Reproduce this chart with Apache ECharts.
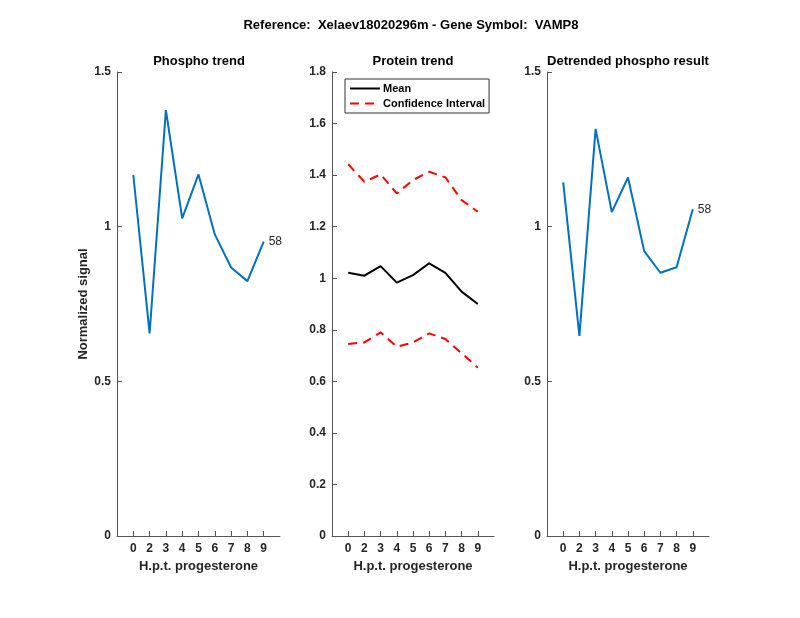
<!DOCTYPE html>
<html>
<head>
<meta charset="utf-8">
<script src="https://cdn.jsdelivr.net/npm/echarts@6/dist/echarts.min.js"></script>
<style>html,body{margin:0;padding:0;background:#fff}#c{width:800px;height:618px}</style>
</head>
<body>
<div id="c"></div>
<script>
const categories = ['0','2','3','4','5','6','7','8','9'];
const phosphoTrend = [1.167, 0.655, 1.377, 1.027, 1.169, 0.975, 0.868, 0.824, 0.952];
const proteinMean = [1.021, 1.010, 1.047, 0.983, 1.012, 1.058, 1.021, 0.948, 0.900];
const proteinUpper = [1.442, 1.374, 1.403, 1.329, 1.381, 1.413, 1.391, 1.303, 1.258];
const proteinLower = [0.745, 0.751, 0.790, 0.734, 0.751, 0.786, 0.764, 0.709, 0.653];
const detrended = [1.143, 0.647, 1.316, 1.047, 1.159, 0.921, 0.851, 0.869, 1.056];
const endLabelText = '58';

const FONT = '"Liberation Sans", Arial, Helvetica, sans-serif';
const AX = '#555';
const TXT = '#262626';
const toPairs = arr => arr.map((v, i) => [i + 1, v]);
const tickPos = categories.map((c, i) => i + 1);

function xAxis(gi) {
  return {
    type: 'value', gridIndex: gi, min: 0, max: 10,
    name: 'H.p.t. progesterone', nameLocation: 'middle', nameGap: 24,
    nameTextStyle: {fontFamily: FONT, fontSize: 13, fontWeight: 'bold', color: TXT},
    axisLine: {show: true, lineStyle: {color: AX, width: 1}},
    axisTick: {show: true, inside: true, length: 5, lineStyle: {color: AX}, customValues: tickPos},
    axisLabel: {fontFamily: FONT, fontSize: 12, fontWeight: 'bold', color: TXT, margin: 7,
      customValues: tickPos, formatter: v => categories[Math.round(v) - 1] ?? ''},
    splitLine: {show: false}
  };
}
function yAxis(gi, max, interval, name) {
  return {
    type: 'value', gridIndex: gi, min: 0, max: max, interval: interval,
    name: name || '', nameLocation: 'middle', nameGap: 19,
    nameTextStyle: {fontFamily: FONT, fontSize: 13, fontWeight: 'bold', color: TXT},
    axisLine: {show: true, lineStyle: {color: AX, width: 1}},
    axisTick: {show: true, inside: true, length: 5, lineStyle: {color: AX}},
    axisLabel: {fontFamily: FONT, fontSize: 12, fontWeight: 'bold', color: TXT, margin: 6},
    splitLine: {show: false}
  };
}
const titleStyle = {fontFamily: FONT, fontSize: 13, fontWeight: 'bold', color: '#000'};

const option = {
  animation: false,
  backgroundColor: '#fff',
  title: [
    {text: 'Reference:  Xelaev18020296m - Gene Symbol:  VAMP8', left: 411, top: 19, padding: 0, textAlign: 'center', textStyle: titleStyle},
    {text: 'Phospho trend', left: 199, top: 55, padding: 0, textAlign: 'center', textStyle: titleStyle},
    {text: 'Protein trend', left: 413, top: 55, padding: 0, textAlign: 'center', textStyle: titleStyle},
    {text: 'Detrended phospho result', left: 628, top: 55, padding: 0, textAlign: 'center', textStyle: titleStyle}
  ],
  legend: {
    left: 345, top: 79, orient: 'vertical', itemWidth: 30, itemHeight: 10, itemGap: 4,
    padding: [4, 4, 4, 4],
    borderColor: '#333', borderWidth: 1, backgroundColor: '#fff',
    textStyle: {fontFamily: FONT, fontSize: 11, fontWeight: 'bold', color: '#000', padding: [0, 0, 0, -2]},
    data: [
      {name: 'Mean', itemStyle: {opacity: 0}},
      {name: 'Confidence Interval', itemStyle: {opacity: 0}}
    ]
  },
  grid: [
    {left: 117, top: 72, width: 163, height: 464},
    {left: 332, top: 72, width: 162, height: 464},
    {left: 547, top: 72, width: 162, height: 464}
  ],
  xAxis: [xAxis(0), xAxis(1), xAxis(2)],
  yAxis: [yAxis(0, 1.5, 0.5, 'Normalized signal'), yAxis(1, 1.8, 0.2), yAxis(2, 1.5, 0.5)],
  series: [
    {type: 'line', xAxisIndex: 0, yAxisIndex: 0, data: toPairs(phosphoTrend), showSymbol: false,
      lineStyle: {color: '#0072BD', width: 2}, itemStyle: {color: '#0072BD'},
      endLabel: {show: true, formatter: endLabelText, fontFamily: FONT, fontSize: 12, color: TXT, distance: 5}},
    {name: 'Mean', type: 'line', xAxisIndex: 1, yAxisIndex: 1, data: toPairs(proteinMean), showSymbol: false,
      lineStyle: {color: '#000', width: 2}, itemStyle: {color: '#000'}},
    {name: 'Confidence Interval', type: 'line', xAxisIndex: 1, yAxisIndex: 1, data: toPairs(proteinUpper), showSymbol: false,
      lineStyle: {color: '#ff0000', width: 2, type: [9, 6]}, itemStyle: {color: '#ff0000'}},
    {name: 'Confidence Interval', type: 'line', xAxisIndex: 1, yAxisIndex: 1, data: toPairs(proteinLower), showSymbol: false,
      lineStyle: {color: '#ff0000', width: 2, type: [9, 6]}, itemStyle: {color: '#ff0000'}},
    {type: 'line', xAxisIndex: 2, yAxisIndex: 2, data: toPairs(detrended), showSymbol: false,
      lineStyle: {color: '#0072BD', width: 2}, itemStyle: {color: '#0072BD'},
      endLabel: {show: true, formatter: endLabelText, fontFamily: FONT, fontSize: 12, color: TXT, distance: 5}}
  ]
};
echarts.init(document.getElementById('c'), null, {renderer: 'canvas'}).setOption(option);
</script>
</body>
</html>
